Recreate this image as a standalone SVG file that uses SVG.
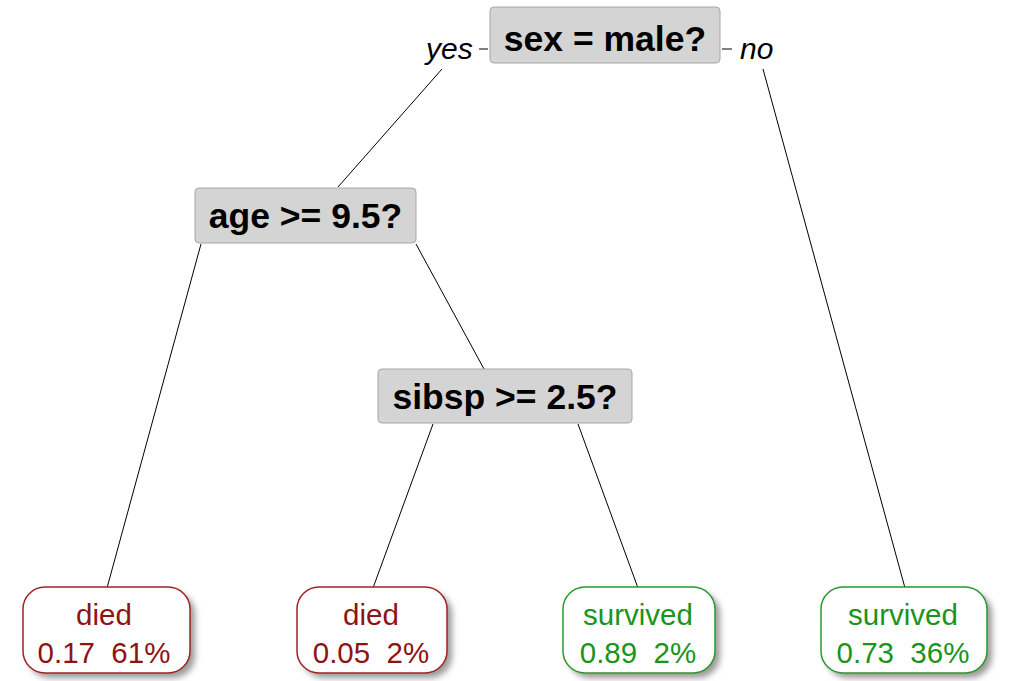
<svg xmlns="http://www.w3.org/2000/svg" width="1010" height="681" viewBox="0 0 1010 681">
<defs>
<filter id="sh" x="-20%" y="-20%" width="140%" height="140%">
<feGaussianBlur stdDeviation="3"/>
</filter>
<style>
.split rect{fill:#d4d4d4;stroke:#a6a6a6;stroke-width:1}
.split text{font-family:"Liberation Sans",Arial,sans-serif;font-weight:bold;font-size:35.5px;fill:#000;text-anchor:middle}
.leaf text{font-family:"Liberation Sans",Arial,sans-serif;font-size:29.5px;text-anchor:middle}
.died rect.b{fill:#fff;stroke:#a02424;stroke-width:1.5}
.died text{fill:#8e1414}
.surv rect.b{fill:#fff;stroke:#2a9a2a;stroke-width:1.5}
.surv text{fill:#1a941a}
.shadow{fill:#9a9a9a;filter:url(#sh)}
.lab{font-family:"Liberation Sans",Arial,sans-serif;font-style:italic;font-size:30px;fill:#000}
#edges line{stroke:#000;stroke-width:1}
</style>
</defs>
<rect width="1010" height="681" fill="#fff"/>
<g id="edges">
<line x1="442" y1="69" x2="338" y2="187"/>
<line x1="763" y1="69" x2="905" y2="588"/>
<line x1="201" y1="244" x2="107" y2="588"/>
<line x1="416" y1="244" x2="484" y2="369"/>
<line x1="433" y1="424" x2="373" y2="588"/>
<line x1="578" y1="424" x2="638" y2="588"/>
<line x1="479" y1="49" x2="488" y2="49"/>
<line x1="722" y1="49" x2="732" y2="49"/>
</g>
<text class="lab" x="426" y="59">yes</text>
<text class="lab" x="740" y="59">no</text>
<g id="n_sex" class="split">
<rect x="490" y="7" width="230" height="56" rx="4"/>
<text x="605" y="51">sex = male?</text>
</g>
<g id="n_age" class="split">
<rect x="195" y="188" width="221" height="55" rx="4"/>
<text x="305.5" y="228">age &gt;= 9.5?</text>
</g>
<g id="n_sibsp" class="split">
<rect x="378" y="369" width="254" height="54" rx="4"/>
<text x="505" y="409">sibsp &gt;= 2.5?</text>
</g>
<g id="leaf1" class="leaf died">
<rect class="shadow" x="28" y="592" width="167" height="86" rx="22"/>
<rect class="b" x="23" y="587" width="167" height="86" rx="22"/>
<text x="104" y="625">died</text>
<text x="104" y="663" xml:space="preserve">0.17  61%</text>
</g>
<g id="leaf2" class="leaf died">
<rect class="shadow" x="302" y="592" width="150" height="86" rx="22"/>
<rect class="b" x="297" y="587" width="150" height="86" rx="22"/>
<text x="371" y="625">died</text>
<text x="371" y="663" xml:space="preserve">0.05  2%</text>
</g>
<g id="leaf3" class="leaf surv">
<rect class="shadow" x="568" y="592" width="152" height="86" rx="22"/>
<rect class="b" x="563" y="587" width="152" height="86" rx="22"/>
<text x="638" y="625">survived</text>
<text x="638" y="663" xml:space="preserve">0.89  2%</text>
</g>
<g id="leaf4" class="leaf surv">
<rect class="shadow" x="826" y="592" width="166" height="86" rx="22"/>
<rect class="b" x="821" y="587" width="166" height="86" rx="22"/>
<text x="903" y="625">survived</text>
<text x="903" y="663" xml:space="preserve">0.73  36%</text>
</g>
</svg>
